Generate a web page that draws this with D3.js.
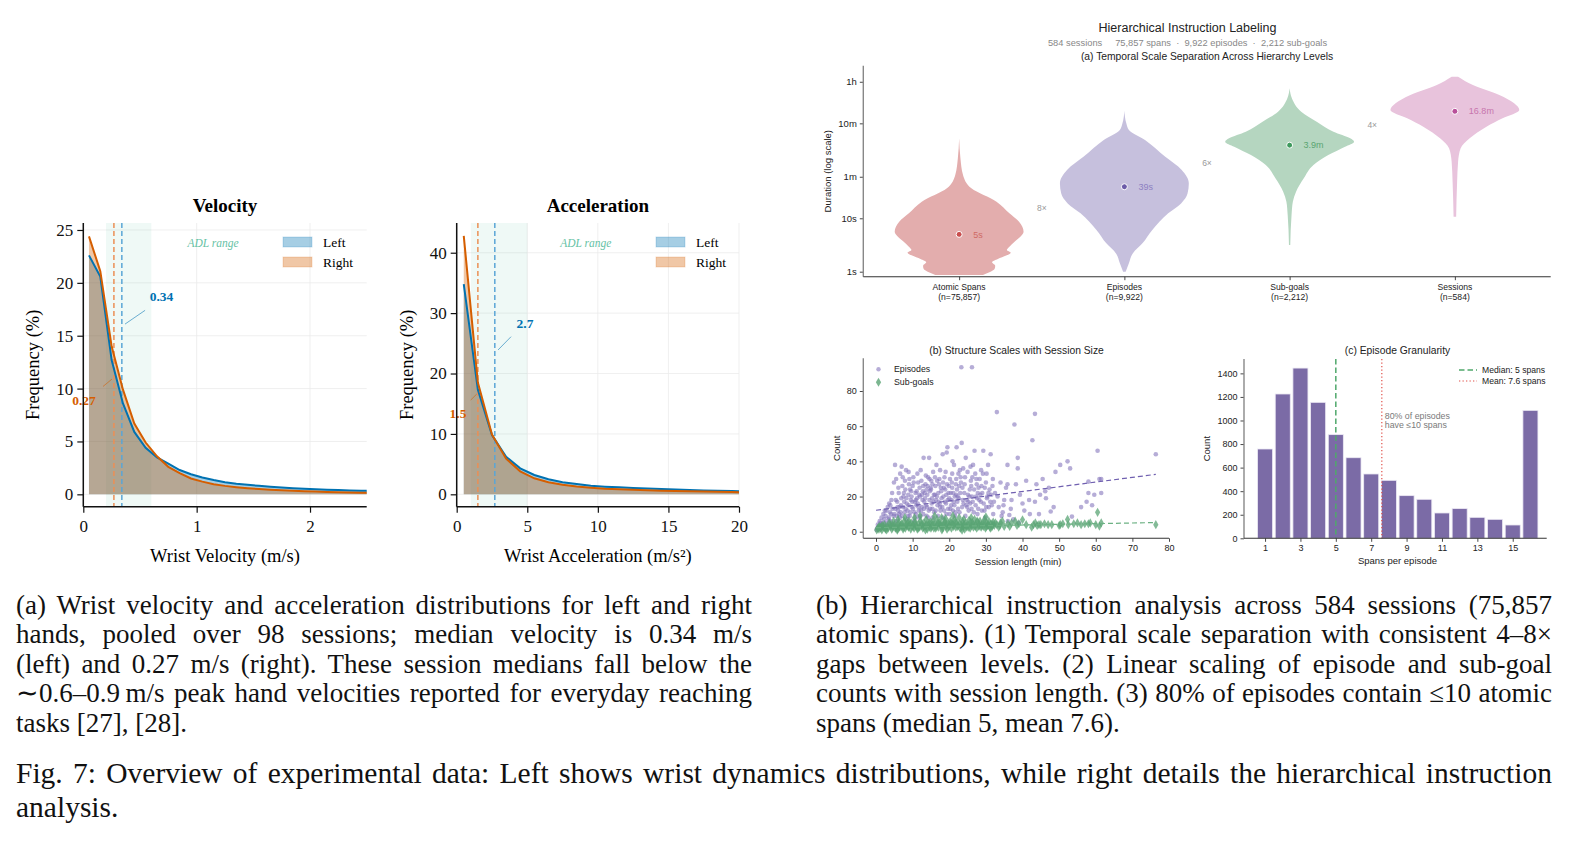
<!DOCTYPE html>
<html>
<head>
<meta charset="UTF-8">
<title>Fig. 7 Overview of experimental data</title>
<script src="https://cdnjs.cloudflare.com/ajax/libs/d3/7.8.5/d3.min.js"></script>
<style>
body{margin:0;background:#fff;}
#fig{position:relative;width:1574px;height:843px;overflow:hidden;}
#fig svg{position:absolute;left:0;top:0;}
.cap{position:absolute;font-family:"Liberation Serif","Times New Roman",serif;color:#111;}
.cap .j{text-align:justify;text-align-last:justify;}
.serif{font-family:"Liberation Serif","Times New Roman",serif;}
.sans{font-family:"Liberation Sans",Arial,sans-serif;}
</style>
</head>
<body>
<div id="fig">
<div class="cap" style="left:16px;top:591px;width:736px;font-size:27px;line-height:29.4px">
<div class="j">(a) Wrist velocity and acceleration distributions for left and right</div>
<div class="j">hands, pooled over 98 sessions; median velocity is 0.34 m/s</div>
<div class="j">(left) and 0.27 m/s (right). These session medians fall below the</div>
<div class="j">∼0.6–0.9&#8201;m/s peak hand velocities reported for everyday reaching</div>
<div>tasks [27], [28].</div>
</div>
<div class="cap" style="left:816px;top:591px;width:736px;font-size:27px;line-height:29.4px">
<div class="j">(b) Hierarchical instruction analysis across 584 sessions (75,857</div>
<div class="j">atomic spans). (1) Temporal scale separation with consistent 4–8×</div>
<div class="j">gaps between levels. (2) Linear scaling of episode and sub-goal</div>
<div class="j">counts with session length. (3) 80% of episodes contain ≤10 atomic</div>
<div>spans (median 5, mean 7.6).</div>
</div>
<div class="cap" style="left:16px;top:756px;width:1536px;font-size:29.5px;line-height:34px">
<div class="j">Fig. 7: Overview of experimental data: Left shows wrist dynamics distributions, while right details the hierarchical instruction</div>
<div>analysis.</div>
</div>
</div>

<script>
// ---- wrist dynamics (left figure) ----
var velBins = [0.05,0.15,0.25,0.35,0.45,0.55,0.65,0.75,0.85,0.95,1.05,1.15,1.25,1.35,1.45,1.55,1.65,1.75,1.85,1.95,2.05,2.15,2.25,2.35,2.45,2.55];
var velLeft  = [22.6,20.6,12.7,8.6,5.9,4.4,3.5,2.9,2.3,1.9,1.6,1.35,1.15,1.0,0.9,0.8,0.72,0.65,0.58,0.52,0.47,0.43,0.4,0.37,0.34,0.32];
var velRight = [24.4,21.1,14.0,9.9,6.7,4.9,3.6,2.6,2.0,1.5,1.2,0.95,0.8,0.68,0.58,0.5,0.43,0.38,0.33,0.29,0.26,0.23,0.2,0.18,0.16,0.14];
var velMedians = [0.34,0.27];   // left, right
var velAdl = [0.2,0.6];

var accBins = [0.5,1.5,2.5,3.5,4.5,5.5,6.5,7.5,8.5,9.5,10.5,11.5,12.5,13.5,14.5,15.5,16.5,17.5,18.5,19.5,20.5];
var accLeft  = [34.8,17.3,9.8,6.2,4.3,3.2,2.5,2.0,1.7,1.43,1.27,1.15,1.05,0.95,0.87,0.8,0.72,0.65,0.6,0.55,0.5];
var accRight = [42.8,18.5,9.9,5.9,3.8,2.65,2.0,1.6,1.3,1.1,0.94,0.85,0.76,0.68,0.6,0.55,0.5,0.45,0.41,0.37,0.33];
var accMedians = [2.7,1.5];
var accAdl = [1,5];

var handNames = ["Left","Right"];

// ---- hierarchy violins (panel a) ----
var levels = ["Atomic Spans","Episodes","Sub-goals","Sessions"];
var levelCounts = ["n=75,857","n=9,922","n=2,212","n=584"];
var levelMedians = [5,39,234,1008];          // seconds
var medianLabels = ["5s","39s","3.9m","16.8m"];
var ratioLabels = ["8×","6×","4×"];
// [duration in s, relative density width]
var atomicProfile  = [[315,0],[133,0.02],[65,0.06],[36.5,0.19],[20.5,0.58],[12.4,0.78],[8.6,0.93],[5.6,1.0],[4.52,0.95],[3.65,0.86],[2.94,0.78],[2.55,0.74],[2.27,0.8],[2.0,0.73],[1.73,0.6],[1.5,0.51],[1.29,0.56],[1.12,0.55],[0.975,0.47],[0.867,0.37]];
var episodeProfile = [[1035,0],[601,0.03],[451,0.07],[292,0.32],[143,0.63],[80,0.89],[45,1.0],[29,0.98],[19,0.88],[12.4,0.68],[6.0,0.43],[3.4,0.28],[2.2,0.13],[1.44,0.07],[1.0,0.02]];
var subgoalProfile = [[2716,0],[1766,0.035],[991,0.18],[644,0.42],[419,0.68],[315,0.94],[272,1.0],[219,0.86],[153,0.6],[99.5,0.37],[56,0.22],[31.5,0.1],[20.5,0.05],[11.5,0.03],[3.16,0.01]];
var sessionProfile = [[4487,0.05],[3133,0.28],[2037,0.69],[1422,0.92],[1067,1.0],[745,0.74],[519,0.49],[315,0.23],[205,0.09],[115,0.05],[48,0.035],[10.7,0.02]];
var durTicks = [1,10,60,600,3600];
var durTickLabels = ["1s","10s","1m","10m","1h"];

// ---- structure vs session length (panel b): [minutes, count] ----
var episodePts = [[0.3,2],[0.5,4],[0.8,3],[1,6],[1.2,5],[1.5,8],[1.8,3],[2,10],[0.6,1.5],[1.1,2.5],[1.6,4],[2.2,7],[2.4,12],[0.2,1],
[2.6,9],[3,5],[3.2,14],[3.5,8],[3.8,11],[4,6],[4.2,18],[4.5,13],[4.8,9],[3,3],[3.6,16],[4.4,22],[2.8,12],[4.9,28],[4.6,4],
[5.2,38],[5.5,30],[5.8,17],[6,12],[6.2,22],[6.5,8],[6.8,15],[7,37],[7.2,26],[7.5,20],[7.8,11],[5.4,18],[6.1,25],[6.6,33],[7.4,14],[7.9,29],[5,10],[5.6,6],[6.9,19],[7.7,17],[6.3,10],[8,24],[5.9,14],
[8.2,35],[8.4,16],[8.6,12],[8.8,21],[9,27],[9.2,9],[9.5,18],[9.8,14],[10,26],[10.2,31],[10.5,11],[10.8,22],[11,15],[11.2,19],[11.5,28],[11.8,8],[8.5,7],[9.3,24],[10.1,13],[10.6,17],[11.3,33],[11.7,12],[9.7,20],[10.4,6],[8.9,15],[11.9,25],[9.1,30],[10.9,10],[12,20],[8.3,19],[10.3,28],[11.4,16],
[12.2,35],[12.5,14],[12.8,23],[13,42],[13.2,17],[13.5,27],[13.8,9],[14,21],[14.2,31],[14.5,42],[14.8,13],[15,24],[15.3,19],[15.6,34],[15.9,11],[12.4,29],[12.9,10],[13.3,22],[13.7,15],[14.1,26],[14.6,18],[15.1,29],[15.5,8],[15.8,21],[12.7,18],[13.6,32],[14.4,12],[15.2,16],[14.9,25],[13.1,13],
[16.2,26],[16.5,38],[16.8,15],[17,22],[17.3,30],[17.6,12],[17.9,19],[18.2,44],[18.5,25],[18.8,17],[19,34],[19.2,10],[19.5,48],[19.8,22],[16.4,18],[16.9,9],[17.2,27],[17.5,35],[17.8,23],[18.1,14],[18.4,20],[18.7,31],[19.1,16],[19.4,27],[19.7,13],[16.1,21],[17.1,17],[18.9,24],[19.3,45],[16.7,29],[18.3,8],[20,19],
[20.2,30],[20.5,15],[20.8,25],[21,12],[21.3,38],[21.5,20],[21.8,27],[22,48],[22.2,17],[22.5,33],[22.8,11],[23,22],[23.2,28],[23.4,50.5],[23.5,14],[23.8,36],[20.4,22],[20.9,40],[21.2,17],[21.6,9],[22.1,24],[22.6,19],[23.1,31],[23.6,25],[23.9,16],[20.7,28],[22.4,13],[21.9,21],[23.3,93.5],[20.1,10],
[24.2,27],[24.5,42],[24.8,18],[25,34],[25.3,12],[25.6,24],[25.9,29],[26.2,93.5],[26.2,20],[26.5,38],[26.9,46],[27.2,15],[27.5,27],[27.8,22],[24.4,9],[25.1,21],[25.7,16],[26.3,31],[26.7,11],[27.1,33],[27.6,19],[28,25],[24.9,14],[26,26],[27.9,13],
[28.3,30],[28.6,17],[29,22],[29.3,46],[29.6,12],[30,28],[30.3,19],[30.6,38],[31,24],[31.3,44],[31.6,15],[31.9,30],[28.8,26],[29.8,8],[30.8,14],[31.5,21],[32,10],[29.2,33],[30.4,20],
[8.1,13],[8.7,9],[9.4,11],[9.9,17],[10.7,8],[11.1,23],[11.6,14],[12.1,9],[12.3,12],[12.6,21],[13.4,19],[13.9,14],[14.3,8],[14.7,23],[15.4,13],[15.7,17],[16.3,12],[16.6,20],[17.4,16],[17.7,25],[18.6,12],[19.6,18],[19.9,26],[20.3,13],[20.6,18],[21.1,22],[21.4,15],[21.7,11],[22.3,20],[22.7,26],[23.7,18],[24.1,22],[24.6,15],[25.2,17],[25.5,20],[26.1,13],[26.4,17],[26.8,24],[27.3,20],[27.7,10],[28.2,18],[28.5,21],[28.9,12],[29.4,16],[29.7,25],[30.1,14],[30.7,22],[31.2,17],[31.8,26],
[6.4,14],[6.7,11],[7.1,9],[7.6,22],[5.3,13],[5.7,9],[4.1,10],[3.4,7],[2.1,5],[1.4,3.5],[3.9,15],[7.3,31],[8.9,34],[9.6,23],[10.9,18],[11.8,21],[12.9,26],[13.8,24],[14.6,30],[15.4,27],[16.1,31],[17.5,14],[18.3,28],[19.2,21],[20.8,33],[21.9,30],[22.9,35],[24.3,31],[25.8,37],[27.4,30],[28.7,35],[30.2,33],
[32.5,22],[33,68],[33.5,14],[34,28],[34.8,15],[34.6,11],[35.5,25],[35.9,38],[35.9,27],[36.4,9.5],[36,6],[37,18],[37.8,61],[38.2,27],[38.7,42],[38.7,36],[39,5],[39.3,21],[40.5,12],[41,29],[41.8,18],[42.7,52],[43.4,67],[43.4,17],[43.8,27],[44.5,10],[45.5,30],[46.2,23],[46.4,19],[47.7,11.5],[49,34],[50.3,38],[52.3,40],[53,36],[53.5,8.6],[56,14],[57.5,17],[58,22],[58,28.5],[59,15],[59.6,21],[60.5,46],[61,30],[61.5,30],[61.5,22],[76.4,44],
[32.2,17],[33.2,20],[34.3,9],[35,18],[36.8,13],[37.5,7],[40,16],[42,10],[44.8,21],[47.2,25],[48.5,14]];
var subgoalPts = [[0.2,1],[0.5,2],[0.8,1.5],[1,3],[1.3,2],[1.6,1],[2,2.5],[2.3,4],[2.6,1.5],[3,3],[3.3,2],[3.6,5],[4,3],[4.3,1.5],[4.6,2.5],[5,4],[1.8,3.5],[2.9,1],[4.8,6],
[5.3,2],[5.6,3.5],[5.9,1.5],[6.2,5],[6.5,2.5],[6.8,4],[7.1,3],[7.4,1.5],[7.7,6],[8,2],[8.3,3.5],[8.6,5],[8.9,2.5],[9.2,4],[9.5,1.5],[9.8,3],[6,7],[7.9,8],[9,6],[5.8,0.8],
[10.1,4],[10.4,2],[10.7,5.5],[11,3],[11.3,1.5],[11.6,4.5],[11.9,2.5],[12.2,6],[12.5,3.5],[12.8,2],[13.1,5],[13.4,3],[13.7,7],[14,1.5],[14.3,4],[14.6,2.5],[14.9,5.5],[10.5,8],[12,9],[13.5,1],
[15.2,3],[15.5,6],[15.8,2],[16.1,4.5],[16.4,3],[16.7,7],[17,2.5],[17.3,5],[17.6,3.5],[17.9,8],[18.2,2],[18.5,4],[18.8,6],[19.1,3],[19.4,1.5],[19.7,5],[16,9],[18,1],[19,7.5],
[20,3.5],[20.3,6],[20.6,2],[20.9,4.5],[21.2,3],[21.5,7],[21.8,2.5],[22.1,5],[22.4,3.5],[22.7,8],[23,2],[23.3,4],[23.6,6],[23.9,3],[24.2,1.5],[24.5,5],[24.8,2.5],[21,9],[23.5,0.8],[24,7],
[25.1,4],[25.4,6.5],[25.7,2],[26,3.5],[26.3,5],[26.6,2.5],[26.9,7],[27.2,4],[27.5,2],[27.8,5.5],[28.1,3],[28.4,6],[28.7,2.5],[29,4.5],[29.3,3],[29.6,7],[29.9,2],[30.2,5],[30.5,3.5],[30.8,6],[31.1,2.5],[31.4,4.5],[31.7,3],[32,5.5],[32.3,3.5],[26,8],[30,8.5],
[0.7,2.5],[1.5,3],[2.5,2],[3.9,4],[4.5,3.5],[5.5,2.5],[6.3,3],[7,4.5],[7.5,2.5],[8.2,4],[8.8,3],[9.6,5],[10.2,3],[10.9,4],[11.5,2],[12.4,4.5],[13,3],[13.8,4],[14.5,5],[15,2],[15.6,4],[16.3,2],[16.9,5],[17.5,4.5],[18.1,3.5],[18.7,5],[19.3,4],[19.9,2.5],[20.5,5],[21.1,4],[21.7,5.5],[22.3,3],[22.9,4.5],[23.4,2.5],[24,4],[24.6,3.5],[25.3,2.5],[25.9,5.5],[26.5,4],[27.1,3],[27.6,6],[28.2,4],[28.8,3.5],[29.5,5],[30.1,3],[30.7,4],[31.3,2],[31.9,4],
[32.6,5],[33.8,3.5],[34.5,6],[36.5,3],[39,4.5],[44.5,4],[48,4],[51,4.5],[56,4],
[33,4],[33.5,2.5],[34,5],[35,3],[36,4.5],[37,5],[38,6],[38.5,3.5],[40,6.8],[41,4],[42.5,2.5],[43,4],[43.5,5],[44,3.5],[45,4],[46,4.5],[47,4],[50,3.5],[50.3,4],[52.3,7],[52.5,4],[54,4.5],[55,5],[57,4.5],[58,4.5],[58.5,5],[60,4],[60.5,11],[61,3.2],[61.5,5],[76.4,4]];
var episodeFit = [[0,12.2],[76.4,32.6]];
var subgoalFit = [[0,2.3],[76.4,5.2]];

// ---- episode granularity (panel c) ----
var spanBins = [1,2,3,4,5,6,7,8,9,10,11,12,13,14,15,16];
var spanCounts = [758,1225,1445,1154,880,684,546,492,362,331,215,252,178,161,113,1086];
var spanMedian = 5, spanMean = 7.6;

var BLUE="#0072B2", ORANGE="#D55E00";
var svg = d3.select("#fig").append("svg").attr("width",1574).attr("height",843);
var defs = svg.append("defs");

function wristPanel(o)
{
var g = svg.append("g").attr("class","serif");
var x = d3.scaleLinear().domain(o.xDomain).range([o.px0,o.px1]);
var y = d3.scaleLinear().domain(o.yDomain).range([o.py1,o.py0]);
defs.append("clipPath").attr("id","clip"+o.id).append("rect")
  .attr("x",o.px0).attr("y",o.py0).attr("width",o.px1-o.px0).attr("height",o.py1-o.py0);

// grid
g.selectAll(".gy").data(o.yTicks).enter().append("line")
  .attr("x1",o.px0).attr("x2",o.px1).attr("y1",d=>y(d)).attr("y2",d=>y(d))
  .attr("stroke","#ebebeb").attr("stroke-width",0.8);
g.selectAll(".gx").data(o.xTicks).enter().append("line")
  .attr("y1",o.py0).attr("y2",o.py1).attr("x1",d=>x(d)).attr("x2",d=>x(d))
  .attr("stroke","#ebebeb").attr("stroke-width",0.8);

// ADL band
g.append("rect").attr("x",x(o.adl[0])).attr("width",x(o.adl[1])-x(o.adl[0]))
  .attr("y",o.py0).attr("height",o.py1-o.py0).attr("fill","#66c2a5").attr("opacity",0.1);
g.append("text").attr("x",(x(0)+o.px1)/2-12).attr("y",o.py0+24).attr("text-anchor","middle")
  .attr("font-style","italic").attr("font-size",11.5).attr("fill","#66c2a5").text("ADL range");

var plot = g.append("g").attr("clip-path","url(#clip"+o.id+")");
var series = [{v:o.left,c:BLUE},{v:o.right,c:ORANGE}];
var area = d3.area().x((d,i)=>x(o.bins[i])).y0(y(0)).y1(d=>y(d));
var line = d3.line().x((d,i)=>x(o.bins[i])).y(d=>y(d));
series.forEach(function(s){
  plot.append("path").attr("d",area(s.v)).attr("fill",s.c).attr("fill-opacity",0.35);
});
// medians
var medCol = ["#5aa5d6","#eb8f55"];
o.medians.forEach(function(m,i){
  plot.append("line").attr("x1",x(m)).attr("x2",x(m)).attr("y1",o.py0).attr("y2",o.py1)
    .attr("stroke",medCol[i]).attr("stroke-width",1.5).attr("stroke-dasharray","5,3");
});
series.forEach(function(s){
  plot.append("path").attr("d",line(s.v)).attr("fill","none").attr("stroke",s.c).attr("stroke-width",2);
});

// median annotations
o.notes.forEach(function(n,i){
  var c = i==0 ? BLUE : ORANGE;
  g.append("line").attr("x1",x(n.from[0])).attr("y1",y(n.from[1])).attr("x2",x(n.to[0])).attr("y2",y(n.to[1]))
    .attr("stroke",c).attr("stroke-width",0.8).attr("opacity",0.7);
  g.append("text").attr("x",x(n.at[0])).attr("y",y(n.at[1])).attr("dy","0.35em").attr("text-anchor","middle")
    .attr("font-weight","bold").attr("font-size",13.5).attr("fill",c).text(o.medians[i]);
});

// axes
var ax = g.append("g").attr("transform","translate(0,"+o.py1+")")
  .call(d3.axisBottom(x).tickValues(o.xTicks).tickSize(6).tickPadding(4).tickFormat(d3.format("d")));
var ay = g.append("g").attr("transform","translate("+o.px0+",0)")
  .call(d3.axisLeft(y).tickValues(o.yTicks).tickSize(6).tickPadding(4).tickFormat(d3.format("d")));
[ax,ay].forEach(function(a){
  a.selectAll("text").attr("font-family","Liberation Serif").attr("font-size",17).attr("fill","#111");
  a.selectAll("line").attr("stroke","#111").attr("stroke-width",1.2);
  a.select(".domain").remove();
});
ax.selectAll("text").attr("dy","0.9em");
g.append("line").attr("x1",o.px0).attr("x2",o.px1).attr("y1",o.py1).attr("y2",o.py1).attr("stroke","#111").attr("stroke-width",1.5);
g.append("line").attr("x1",o.px0).attr("x2",o.px0).attr("y1",o.py0).attr("y2",o.py1).attr("stroke","#111").attr("stroke-width",1.5);

// titles
g.append("text").attr("x",(o.px0+o.px1)/2).attr("y",o.py0-11).attr("text-anchor","middle")
  .attr("font-weight","bold").attr("font-size",19).text(o.title);
g.append("text").attr("x",(o.px0+o.px1)/2).attr("y",o.py1+55).attr("text-anchor","middle")
  .attr("font-size",18.5).text(o.xLabel);
g.append("text").attr("transform","translate("+(o.px0-44)+","+((o.py0+o.py1)/2)+") rotate(-90)")
  .attr("text-anchor","middle").attr("font-size",18.5).text("Frequency (%)");

// legend
handNames.forEach(function(h,i){
  var ly = o.py0+14+i*20;
  g.append("rect").attr("x",o.legX).attr("y",ly).attr("width",29).attr("height",10)
    .attr("fill",i==0?BLUE:ORANGE).attr("fill-opacity",0.35).attr("stroke",i==0?BLUE:ORANGE).attr("stroke-opacity",0.2);
  g.append("text").attr("x",o.legX+40).attr("y",ly+10).attr("font-size",13.5).text(h);
});
}

wristPanel({id:"vel",title:"Velocity",xLabel:"Wrist Velocity (m/s)",
  bins:velBins,left:velLeft,right:velRight,medians:velMedians,adl:velAdl,
  xDomain:[0,2.5],yDomain:[-1.17,25.66],xTicks:[0,1,2],yTicks:[0,5,10,15,20,25],
  px0:83.3,px1:366.7,py0:223,py1:506.7,legX:283,
  notes:[{at:[0.69,18.7],from:[0.545,17.4],to:[0.368,16.1]},{at:[0.006,8.85],from:[0.174,10.2],to:[0.253,10.9]}]});

wristPanel({id:"acc",title:"Acceleration",xLabel:"Wrist Acceleration (m/s²)",
  bins:accBins,left:accLeft,right:accRight,medians:accMedians,adl:accAdl,
  xDomain:[0,20],yDomain:[-2.05,44.92],xTicks:[0,5,10,15,20],yTicks:[0,10,20,30,40],
  px0:456.7,px1:739,py0:223,py1:506.7,legX:656,
  notes:[{at:[4.84,28.4],from:[3.85,26.1],to:[2.93,23.9]},{at:[0.09,13.5],from:[0.99,15.6],to:[1.42,16.6]}]});

// ---- right figure ----
var R = svg.append("g").attr("class","sans").attr("fill","#222");
R.append("text").attr("x",1187.5).attr("y",31.5).attr("text-anchor","middle").attr("font-size",12.5).text("Hierarchical Instruction Labeling");
R.append("text").attr("x",1187.5).attr("y",45.5).attr("text-anchor","middle").attr("font-size",9.3).attr("fill","#888")
  .style("white-space","pre").text("584 sessions     75,857 spans  ·  9,922 episodes  ·  2,212 sub-goals");

function styleAxis(a, size)
{
a.selectAll("text").attr("font-family","Liberation Sans").attr("font-size",size||9).attr("fill","#222");
a.selectAll("line").attr("stroke","#333").attr("stroke-width",0.9);
a.select(".domain").remove();
}
function spines(g, x0, x1, y0, y1)
{
g.append("line").attr("x1",x0).attr("x2",x0).attr("y1",y0).attr("y2",y1).attr("stroke","#888").attr("stroke-width",1.4);
g.append("line").attr("x1",x0).attr("x2",x1).attr("y1",y1).attr("y2",y1).attr("stroke","#333").attr("stroke-width",1.1);
}

// (a) violins
(function(){
var px0=863.3, px1=1550.7, py0=65.7, py1=276.7;
var g = R.append("g");
var x = d3.scaleLinear().domain([-0.58,3.58]).range([px0,px1]);
var y = d3.scaleLog().domain([0.806,7200]).range([py1,py0]);
var w = d3.scaleLinear().domain([0,1]).range([0,x(0.39)-x(0)]);
var fills = ["#e3adad","#c6c0dd","#b5d6c0","#e8c3dc"];
var dots  = ["#c94f4f","#6c5ba8","#3f9a5e","#b8509a"];
var labs  = ["#cf6a64","#8d80c2","#5aa571","#c775ad"];
var profiles = [atomicProfile,episodeProfile,subgoalProfile,sessionProfile];
g.append("text").attr("x",(px0+px1)/2).attr("y",60).attr("text-anchor","middle").attr("font-size",10.3).text("(a) Temporal Scale Separation Across Hierarchy Levels");
profiles.forEach(function(p,i){
  var cx = x(i);
  var area = d3.area().curve(d3.curveMonotoneY)
    .y(d=>y(d[0])).x0(d=>cx-w(d[1])).x1(d=>cx+w(d[1]));
  g.append("path").attr("d",area(p)).attr("fill",fills[i]);
  g.append("circle").attr("cx",cx).attr("cy",y(levelMedians[i])).attr("r",3).attr("fill",dots[i]).attr("stroke","#fff").attr("stroke-width",1);
  g.append("text").attr("x",cx+14).attr("y",y(levelMedians[i])).attr("dy","0.35em").attr("font-size",9).attr("fill",labs[i]).text(medianLabels[i]);
});
ratioLabels.forEach(function(r,i){
  var ym = Math.sqrt(levelMedians[i]*levelMedians[i+1]);
  g.append("text").attr("x",x(i+0.5)).attr("y",y(ym)).attr("text-anchor","middle").attr("font-size",8.5).attr("fill","#999").text(r);
});
var ay = g.append("g").attr("transform","translate("+px0+",0)")
  .call(d3.axisLeft(y).tickValues(durTicks).tickSize(3.5).tickPadding(3).tickFormat((d,i)=>durTickLabels[i]));
styleAxis(ay,9.5);
var ax = g.append("g").attr("transform","translate(0,"+py1+")")
  .call(d3.axisBottom(x).tickValues([0,1,2,3]).tickSize(3.5).tickFormat(""));
styleAxis(ax);
levels.forEach(function(l,i){
  var t = g.append("text").attr("x",x(i)).attr("y",py1+13.5).attr("text-anchor","middle").attr("font-size",8.6);
  t.append("tspan").attr("x",x(i)).text(l);
  t.append("tspan").attr("x",x(i)).attr("dy",10).text("("+levelCounts[i]+")");
});
spines(g,px0,px1,py0,py1);
g.append("text").attr("transform","translate(828,"+((py0+py1)/2)+") rotate(-90)").attr("text-anchor","middle")
  .attr("dy","0.35em").attr("font-size",9.5).text("Duration (log scale)");
})();

// (b) scatter
(function(){
var px0=863.3, px1=1169, py0=358.3, py1=538.3;
var g = R.append("g");
var x = d3.scaleLinear().domain([-3.47,80]).range([px0,px1]);
var y = d3.scaleLinear().domain([-3.75,98.6]).range([py1,py0]);
g.append("text").attr("x",1016.5).attr("y",353.5).attr("text-anchor","middle").attr("font-size",10.3).text("(b) Structure Scales with Session Size");
g.selectAll(".ep").data(episodePts).enter().append("circle")
  .attr("cx",d=>x(d[0])).attr("cy",d=>y(d[1])).attr("r",2.3).attr("fill","#8676bd").attr("fill-opacity",0.6);
var fit = d3.line().x(d=>x(d[0])).y(d=>y(d[1]));
g.append("path").attr("d",fit(episodeFit)).attr("stroke","#7060b0").attr("stroke-width",1.2).attr("stroke-dasharray","5,3").attr("fill","none");
var diamond = d3.symbol().type(d3.symbolDiamond).size(24);
g.selectAll(".sg").data(subgoalPts).enter().append("path")
  .attr("d",diamond).attr("transform",d=>"translate("+x(d[0])+","+y(d[1])+")").attr("fill","#5aa474").attr("fill-opacity",0.75);
g.append("path").attr("d",fit(subgoalFit)).attr("stroke","#6cb183").attr("stroke-width",1.2).attr("stroke-dasharray","5,3").attr("fill","none");
var ax = g.append("g").attr("transform","translate(0,"+py1+")")
  .call(d3.axisBottom(x).tickValues([0,10,20,30,40,50,60,70,80]).tickSize(3.5).tickPadding(3).tickFormat(d3.format("d")));
var ay = g.append("g").attr("transform","translate("+px0+",0)")
  .call(d3.axisLeft(y).tickValues([0,20,40,60,80]).tickSize(3.5).tickPadding(3).tickFormat(d3.format("d")));
styleAxis(ax); styleAxis(ay);
spines(g,px0,px1,py0,py1);
g.append("text").attr("x",(px0+px1)/2+2).attr("y",565).attr("text-anchor","middle").attr("font-size",9.5).text("Session length (min)");
g.append("text").attr("transform","translate(836.5,"+((py0+py1)/2)+") rotate(-90)").attr("text-anchor","middle")
  .attr("dy","0.35em").attr("font-size",9.5).text("Count");
// legend
g.append("circle").attr("cx",878.5).attr("cy",369.3).attr("r",2.2).attr("fill","#8676bd").attr("fill-opacity",0.6);
g.append("text").attr("x",894).attr("y",369.3).attr("dy","0.35em").attr("font-size",8.8).text("Episodes");
g.append("path").attr("d",diamond).attr("transform","translate(878.5,382.3)").attr("fill","#5aa474").attr("fill-opacity",0.8);
g.append("text").attr("x",894).attr("y",382.3).attr("dy","0.35em").attr("font-size",8.8).text("Sub-goals");
})();

// (c) bars
(function(){
var px0=1244, px1=1546.7, py0=359, py1=538.3;
var g = R.append("g");
var x = d3.scaleLinear().domain([-0.19,16.92]).range([px0,px1]);
var y = d3.scaleLinear().domain([0,1522]).range([py1,py0]);
g.append("text").attr("x",1397.5).attr("y",353.5).attr("text-anchor","middle").attr("font-size",10.3).text("(c) Episode Granularity");
g.selectAll(".bar").data(spanCounts).enter().append("rect")
  .attr("x",(d,i)=>x(spanBins[i]-0.425)).attr("width",x(0.85)-x(0))
  .attr("y",d=>y(d)).attr("height",d=>y(0)-y(d))
  .attr("fill","#7b6ba6").attr("stroke","#ece9f4").attr("stroke-width",0.8);
g.append("line").attr("x1",x(spanMedian)).attr("x2",x(spanMedian)).attr("y1",py0).attr("y2",py1)
  .attr("stroke","#4fa86b").attr("stroke-width",1.5).attr("stroke-dasharray","5.5,3");
g.append("line").attr("x1",x(spanMean)).attr("x2",x(spanMean)).attr("y1",py0).attr("y2",py1)
  .attr("stroke","#e0504a").attr("stroke-width",1.2).attr("stroke-dasharray","1.3,2.2");
var ann = g.append("text").attr("x",x(spanMean)+3).attr("y",419).attr("font-size",8.8).attr("fill","#7a7a7a");
ann.append("tspan").attr("x",x(spanMean)+3).text("80% of episodes");
ann.append("tspan").attr("x",x(spanMean)+3).attr("dy",8.6).text("have ≤10 spans");
var ax = g.append("g").attr("transform","translate(0,"+py1+")")
  .call(d3.axisBottom(x).tickValues([1,3,5,7,9,11,13,15]).tickSize(3.5).tickPadding(3).tickFormat(d3.format("d")));
var ay = g.append("g").attr("transform","translate("+px0+",0)")
  .call(d3.axisLeft(y).tickValues([0,200,400,600,800,1000,1200,1400]).tickSize(3.5).tickPadding(3).tickFormat(d3.format("d")));
styleAxis(ax); styleAxis(ay);
spines(g,px0,px1,py0,py1);
g.append("text").attr("x",1397.5).attr("y",563.5).attr("text-anchor","middle").attr("font-size",9.5).text("Spans per episode");
g.append("text").attr("transform","translate(1206.5,"+((py0+py1)/2)+") rotate(-90)").attr("text-anchor","middle")
  .attr("dy","0.35em").attr("font-size",9.5).text("Count");
// legend
g.append("line").attr("x1",1459).attr("x2",1477).attr("y1",370).attr("y2",370).attr("stroke","#4fa86b").attr("stroke-width",1.5).attr("stroke-dasharray","5.5,3");
g.append("text").attr("x",1482).attr("y",370).attr("dy","0.35em").attr("font-size",8.6).text("Median: "+spanMedian+" spans");
g.append("line").attr("x1",1459).attr("x2",1477).attr("y1",381).attr("y2",381).attr("stroke","#e0504a").attr("stroke-width",1.2).attr("stroke-dasharray","1.3,2.2");
g.append("text").attr("x",1482).attr("y",381).attr("dy","0.35em").attr("font-size",8.6).text("Mean: "+spanMean+" spans");
})();
</script>
</body>
</html>
